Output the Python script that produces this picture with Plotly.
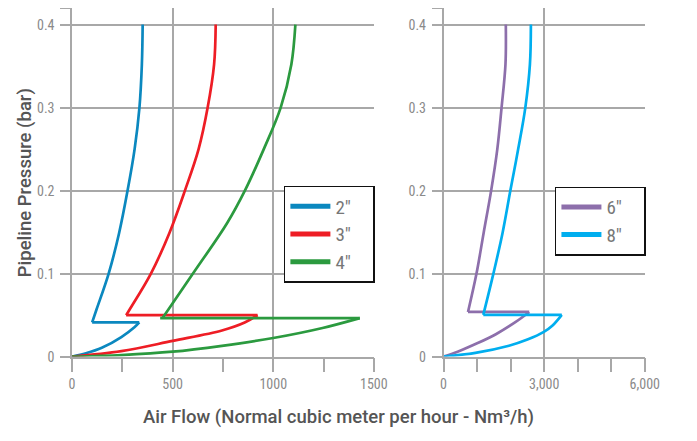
import plotly.graph_objects as go

# the page body keeps an 8px margin on every side; size the figure so the page is 697x441
OX, OY = 8, 8
WF, HF = 697 - 2 * OX, 441 - 2 * OY

# ---------------- data ----------------
# Left panel: 2", 3", 4"  (flow in Nm3/h, pressure in bar)
flow_2_low = [0, 69, 148, 245, 310, 334]
press_2_low = [0, 0.004, 0.0106, 0.0236, 0.0354, 0.0413]
flow_2_back = 100
flow_2_up = [100, 122, 182, 234, 276, 311, 335, 347, 351]
press_2_up = [0.0413, 0.057, 0.1, 0.149, 0.2, 0.25, 0.3, 0.352, 0.4]

flow_3_low = [0, 245, 500, 745, 858, 922]
press_3_low = [0, 0.0066, 0.0189, 0.0314, 0.041, 0.0499]
flow_3_back = 269
flow_3_up = [269, 287, 392, 484, 561, 629, 674, 706, 714]
press_3_up = [0.0499, 0.057, 0.1, 0.149, 0.2, 0.25, 0.3, 0.352, 0.4]

flow_4_low = [0, 245, 500, 745, 1000, 1245, 1430]
press_4_low = [0, 0.0019, 0.0059, 0.013, 0.0224, 0.0345, 0.0464]
flow_4_back = 438
flow_4_up = [450, 601, 771, 859, 953, 1037, 1090, 1110]
press_4_up = [0.0464, 0.1, 0.161, 0.2, 0.25, 0.3, 0.352, 0.4]

# Right panel: 6", 8"
flow_6_low = [0, 419, 1001, 1560, 2140, 2555]
press_6_low = [0, 0.0059, 0.016, 0.027, 0.0415, 0.0538]
flow_6_back = 729
flow_6_up = [729, 982, 1195, 1419, 1603, 1730, 1846, 1856]
press_6_up = [0.0538, 0.1, 0.149, 0.2, 0.25, 0.3, 0.352, 0.4]

flow_8_low = [0, 950, 1950, 2500, 2990, 3250, 3525]
press_8_low = [0, 0.0045, 0.0131, 0.0205, 0.0298, 0.0375, 0.0503]
flow_8_back = 1185
flow_8_up = [1185, 1486, 1759, 1992, 2225, 2438, 2575, 2604]
press_8_up = [0.0503, 0.1, 0.149, 0.2, 0.25, 0.3, 0.352, 0.4]

labels_left = ["2\u2033", "3\u2033", "4\u2033"]
labels_right = ["6\u2033", "8\u2033"]
y_tickvals = [0, 0.1, 0.2, 0.3, 0.4, 0.42]
y_ticktext = ["0", "0.1", "0.2", "0.3", "0.4", ""]

colors_left = ["#0b88bf", "#ee1d25", "#2b9a3f"]
colors_right = ["#8d6fab", "#00aeef"]

GRID = "#a8a8a8"
TICKC = "#8a8a8a"
FONT = "Roboto Condensed, Liberation Sans Narrow, DejaVu Sans Condensed, Roboto, sans-serif"
TFONT = "Roboto, Open Sans, sans-serif"
PAD = "\u00a0\u00a0\u00a0\u2009"

series_left = [
    (flow_2_low, press_2_low, flow_2_back, flow_2_up, press_2_up),
    (flow_3_low, press_3_low, flow_3_back, flow_3_up, press_3_up),
    (flow_4_low, press_4_low, flow_4_back, flow_4_up, press_4_up),
]
series_right = [
    (flow_6_low, press_6_low, flow_6_back, flow_6_up, press_6_up),
    (flow_8_low, press_8_low, flow_8_back, flow_8_up, press_8_up),
]


def fx(px):
    return min(1.0, max(0.0, (px - OX) / WF))


def fy(py):
    return min(1.0, max(0.0, (HF - (py - OY)) / HF))


def build(s):
    fl, pl, back, fu, pu = s
    xs = list(fl) + [None, fl[-1], back, None] + list(fu)
    ys = list(pl) + [None, pl[-1], pl[-1], None] + list(pu)
    return xs, ys


fig = go.Figure()

for s, c, lab in zip(series_left, colors_left, labels_left):
    xs, ys = build(s)
    fig.add_trace(go.Scatter(x=xs, y=ys, mode="lines", xaxis="x", yaxis="y",
                             line=dict(color=c, width=2.7, shape="spline", smoothing=1.0),
                             connectgaps=False, showlegend=False, hoverinfo="skip"))
    fig.add_trace(go.Scatter(x=[None], y=[None], mode="lines", xaxis="x", yaxis="y",
                             line=dict(color=c, width=5), name=lab + PAD, legend="legend"))

for s, c, lab in zip(series_right, colors_right, labels_right):
    xs, ys = build(s)
    fig.add_trace(go.Scatter(x=xs, y=ys, mode="lines", xaxis="x2", yaxis="y2",
                             line=dict(color=c, width=2.7, shape="spline", smoothing=1.0),
                             connectgaps=False, showlegend=False, hoverinfo="skip"))
    fig.add_trace(go.Scatter(x=[None], y=[None], mode="lines", xaxis="x2", yaxis="y2",
                             line=dict(color=c, width=5), name=lab + PAD, legend="legend2"))

ydom = [fy(363.3), fy(7.3)]

common_x = dict(showgrid=True, gridcolor=GRID, gridwidth=1.5, zeroline=False,
                showline=True, linecolor=GRID, linewidth=1.5,
                ticks="outside", ticklen=14, tickwidth=1.5, tickcolor=GRID,
                tickfont=dict(family=FONT, size=14, color=TICKC), fixedrange=True)
common_y = dict(showgrid=True, gridcolor=GRID, gridwidth=1.5, zeroline=False,
                showline=True, linecolor=GRID, linewidth=1.5,
                ticks="outside", ticklen=10, tickwidth=1.5, tickcolor=GRID,
                tickvals=y_tickvals, ticktext=y_ticktext, range=[0, 0.42],
                tickfont=dict(family=FONT, size=14, color=TICKC), fixedrange=True,
                domain=ydom, ticklabelstandoff=3)

legend_common = dict(xanchor="left", yanchor="top", bgcolor="white", bordercolor="#111",
                     borderwidth=1.5, itemwidth=40,
                     font=dict(family=FONT, size=19, color="#777"))

fig.update_layout(
    width=WF, height=HF,
    margin=dict(l=0, r=0, t=0, b=0),
    paper_bgcolor="white", plot_bgcolor="white",
    xaxis=dict(common_x, domain=[fx(70.7), fx(380.7)], anchor="y", range=[0, 1500],
               tick0=0, dtick=500,
               minor=dict(dtick=250, tick0=0, ticks="outside", ticklen=14, tickwidth=1.5,
                          tickcolor=GRID, showgrid=False)),
    yaxis=dict(common_y, anchor="x"),
    xaxis2=dict(common_x, domain=[fx(452.3), fx(659)], anchor="y2", range=[0, 6000],
                tick0=0, dtick=3000, tickformat=",",
                minor=dict(dtick=1000, tick0=0, ticks="outside", ticklen=14, tickwidth=1.5,
                           tickcolor=GRID, showgrid=False)),
    yaxis2=dict(common_y, anchor="x2"),
    legend=dict(legend_common, x=fx(288.3), y=fy(189.3)),
    legend2=dict(legend_common, x=fx(566.7), y=fy(190)),
    annotations=[
        dict(text="Air Flow (Normal cubic meter per hour - Nm\u00b3/h)", xref="paper", yref="paper",
             x=fx(344), y=fy(425), xanchor="center", yanchor="middle", showarrow=False,
             font=dict(family=TFONT, size=18.5, color="#555", weight=500)),
        dict(text="Pipeline Pressure (bar)", xref="paper", yref="paper", textangle=-90,
             x=fx(22), y=fy(186), xanchor="center", yanchor="middle", showarrow=False,
             font=dict(family=TFONT, size=18.5, color="#555", weight=500)),
    ],
)

fig.write_html("out.html", config={"responsive": False, "displayModeBar": False})
